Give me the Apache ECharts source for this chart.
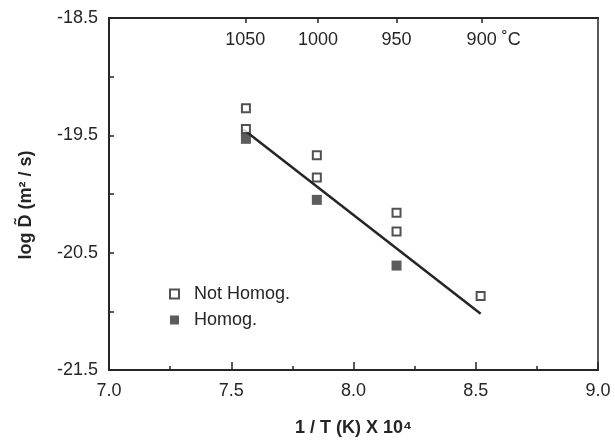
<!DOCTYPE html>
<html lang="en">
<head>
    <meta charset="UTF-8">
    <title>log D vs 1/T</title>
    <script src="https://cdn.jsdelivr.net/npm/echarts@6/dist/echarts.min.js"></script>
    <style>
        html, body { margin: 0; padding: 0; background: #fff; }
        #main { width: 615px; height: 440px; }
    </style>
</head>
<body>
    <div id="main"></div>
    <script type="text/javascript">
        // data
        var notHomogX = [7.56, 7.56, 7.85, 7.85, 8.176, 8.176, 8.52];
        var notHomogY = [-19.27, -19.445, -19.67, -19.86, -20.16, -20.32, -20.87];
        var homogX = [7.56, 7.85, 8.176];
        var homogY = [-19.53, -20.05, -20.61];
        var fitX = [7.55, 8.52];
        var fitY = [-19.45, -21.02];
        var tempC = [1050, 1000, 950, 900];

        // top axis: temperature in C placed at 1e4 / T(K)
        var tempPos = tempC.map(function (t) { return 1e4 / (t + 273.15); });

        function pairs(xs, ys) {
            return xs.map(function (x, i) { return [x, ys[i]]; });
        }

        var ink = '#252525';
        var font = 'Liberation Sans';

        var myChart = echarts.init(document.getElementById('main'));
        var option = {
            animation: false,
            textStyle: { fontFamily: font, color: ink },
            grid: {
                left: 109, right: 17, top: 18, bottom: 70,
                outerBoundsMode: 'none',
                show: true, borderColor: ink, borderWidth: 1.5
            },
            legend: {
                orient: 'vertical',
                left: 164, top: 280,
                itemWidth: 9, itemHeight: 9, itemGap: 8,
                data: ['Not Homog.', 'Homog.'],
                textStyle: { fontFamily: font, fontSize: 18, color: ink, padding: [0, 0, 0, 10] }
            },
            xAxis: [{
                type: 'value', min: 7, max: 9, interval: 0.5,
                name: '1 / T (K) X 10\u2074', nameLocation: 'middle', nameGap: 49,
                nameTextStyle: { fontFamily: font, fontSize: 18, fontWeight: 'bold', color: ink },
                axisLine: { lineStyle: { color: ink, width: 2 } },
                axisTick: { inside: true, length: 8, lineStyle: { color: ink, width: 1.5 } },
                minorTick: { show: true, splitNumber: 2, length: 4, lineStyle: { color: ink, width: 1.5 } },
                splitLine: { show: false },
                axisLabel: {
                    fontSize: 18, color: ink, margin: 12,
                    formatter: function (v) { return v.toFixed(1); }
                }
            }, {
                type: 'value', position: 'top', min: 7, max: 9,
                axisLine: { lineStyle: { color: ink, width: 2 } },
                axisTick: { inside: true, length: 5, customValues: tempPos, lineStyle: { color: ink, width: 1.5 } },
                splitLine: { show: false },
                axisLabel: {
                    inside: true, margin: 13, fontSize: 18, color: ink,
                    customValues: tempPos,
                    formatter: function (v) {
                        var i = tempPos.findIndex(function (p) { return Math.abs(p - v) < 1e-6; });
                        var t = tempC[i];
                        return t === 900 ? '{pad|}' + t + ' \u02daC' : String(t);
                    },
                    rich: { pad: { width: 24 } }
                }
            }],
            yAxis: {
                type: 'value', min: -21.5, max: -18.5, interval: 0.5,
                name: 'log D\u0303 (m\u00b2 / s)', nameLocation: 'middle', nameGap: 74,
                nameTextStyle: { fontFamily: font, fontSize: 18, fontWeight: 'bold', color: ink, padding: [0, 22, 0, 0] },
                axisLine: { lineStyle: { color: ink, width: 2 } },
                axisTick: { inside: true, length: 5, lineStyle: { color: ink, width: 1.5 } },
                splitLine: { show: false },
                axisLabel: {
                    fontSize: 18, color: ink, margin: 11,
                    formatter: function (v) {
                        return Math.abs((v + 21.5) % 1) < 1e-6 ? v.toFixed(1) : '';
                    }
                }
            },
            series: [{
                name: 'Not Homog.',
                type: 'scatter',
                symbol: 'rect', symbolSize: 8,
                itemStyle: { color: '#fff', borderColor: ink, borderWidth: 2 },
                data: pairs(notHomogX, notHomogY),
                z: 4
            }, {
                name: 'Homog.',
                type: 'scatter',
                symbol: 'rect', symbolSize: 10,
                itemStyle: { color: '#333' },
                data: pairs(homogX, homogY),
                z: 3
            }, {
                name: 'fit',
                type: 'line',
                symbol: 'none',
                lineStyle: { color: ink, width: 2.5 },
                data: pairs(fitX, fitY),
                z: 2
            }]
        };
        myChart.setOption(option);
        window.onresize = myChart.resize;
    </script>
</body>
</html>
